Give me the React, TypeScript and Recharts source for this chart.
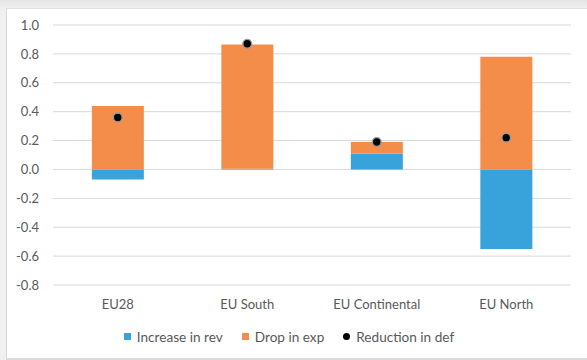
import React from 'react';
import { ComposedChart, Bar, Line, XAxis, YAxis, CartesianGrid, Legend } from 'recharts';

const categories = ['EU28', 'EU South', 'EU Continental', 'EU North'];
const increaseInRev = [-0.07, 0.005, 0.11, -0.55];
const dropInExp = [0.44, 0.86, 0.08, 0.78];
const reductionInDef = [0.36, 0.87, 0.19, 0.22];
const yTicks = [-0.8, -0.6, -0.4, -0.2, 0.0, 0.2, 0.4, 0.6, 0.8, 1.0];

const data = categories.map((c, i) => ({
  name: c,
  rev: increaseInRev[i],
  exp: dropInExp[i],
  def: reductionInDef[i],
}));

const FONT = 'Lato, "Open Sans", sans-serif';
const TEXT = '#595959';
const BLUE = '#38A3DB';
const ORANGE = '#F58D4A';

const legendItems = [
  { label: 'Increase in rev', kind: 'square', color: BLUE },
  { label: 'Drop in exp', kind: 'square', color: ORANGE },
  { label: 'Reduction in def', kind: 'circle', color: '#000' },
];

const LegendContent = () => (
  <div
    style={{
      height: 38,
      display: 'flex',
      justifyContent: 'center',
      alignItems: 'center',
      paddingTop: 5,
      boxSizing: 'border-box',
      fontFamily: FONT,
      fontSize: 13.6,
      color: TEXT,
    }}
  >
    {legendItems.map((it, i) => (
      <div key={i} style={{ display: 'flex', alignItems: 'center', marginRight: i < 2 ? 19 : 0 }}>
        <span
          style={{
            display: 'inline-block',
            width: 7,
            height: 7,
            background: it.color,
            borderRadius: it.kind === 'circle' ? '50%' : 0,
            marginRight: 6,
          }}
        />
        <span>{it.label}</span>
      </div>
    ))}
  </div>
);

const DefDot = (props: any) => {
  const { cx, cy } = props;
  if (cx == null || cy == null) return null;
  return <circle cx={cx} cy={cy} r={4.4} fill="#000" stroke="#9a9a9a" strokeWidth={1.4} />;
};

export default function App() {
  return (
    <div
      style={{
        position: 'absolute',
        left: 0,
        top: 0,
        width: 587,
        height: 360,
        background: 'linear-gradient(180deg, #e4e4e4 0px, #f0f0f0 8px)',
        overflow: 'hidden',
      }}
    >
      <div
        style={{
          position: 'absolute',
          left: 6,
          top: 8,
          width: 581,
          height: 349,
          background: '#fff',
          borderLeft: '1px solid #d6d6d6',
          borderTop: '1px solid #e2e2e2',
          borderBottom: '2px solid #dcdcdc',
        }}
      >
        <ComposedChart
          width={580}
          height={349}
          data={data}
          stackOffset="sign"
          barCategoryGap="30%"
          margin={{ top: 16, right: 16, left: 0, bottom: 5 }}
        >
          <CartesianGrid vertical={false} stroke="#d9d9d9" strokeWidth={1} />
          <XAxis
            dataKey="name"
            axisLine={false}
            tickLine={false}
            height={30}
            tickMargin={9}
            tick={{ fill: TEXT, fontSize: 13, fontFamily: FONT }}
          />
          <YAxis
            width={46}
            domain={[-0.8, 1.0]}
            ticks={yTicks}
            interval={0}
            axisLine={false}
            tickLine={false}
            tickMargin={8}
            tickFormatter={(v: number) => v.toFixed(1)}
            tick={{ fill: TEXT, fontSize: 13, fontFamily: FONT }}
          />
          <Bar dataKey="rev" name="Increase in rev" stackId="a" fill={BLUE} isAnimationActive={false} />
          <Bar dataKey="exp" name="Drop in exp" stackId="a" fill={ORANGE} isAnimationActive={false} />
          <Line
            dataKey="def"
            name="Reduction in def"
            stroke="none"
            dot={<DefDot />}
            activeDot={false}
            isAnimationActive={false}
          />
          <Legend verticalAlign="bottom" content={<LegendContent />} wrapperStyle={{ height: 38 }} />
        </ComposedChart>
      </div>
    </div>
  );
}
